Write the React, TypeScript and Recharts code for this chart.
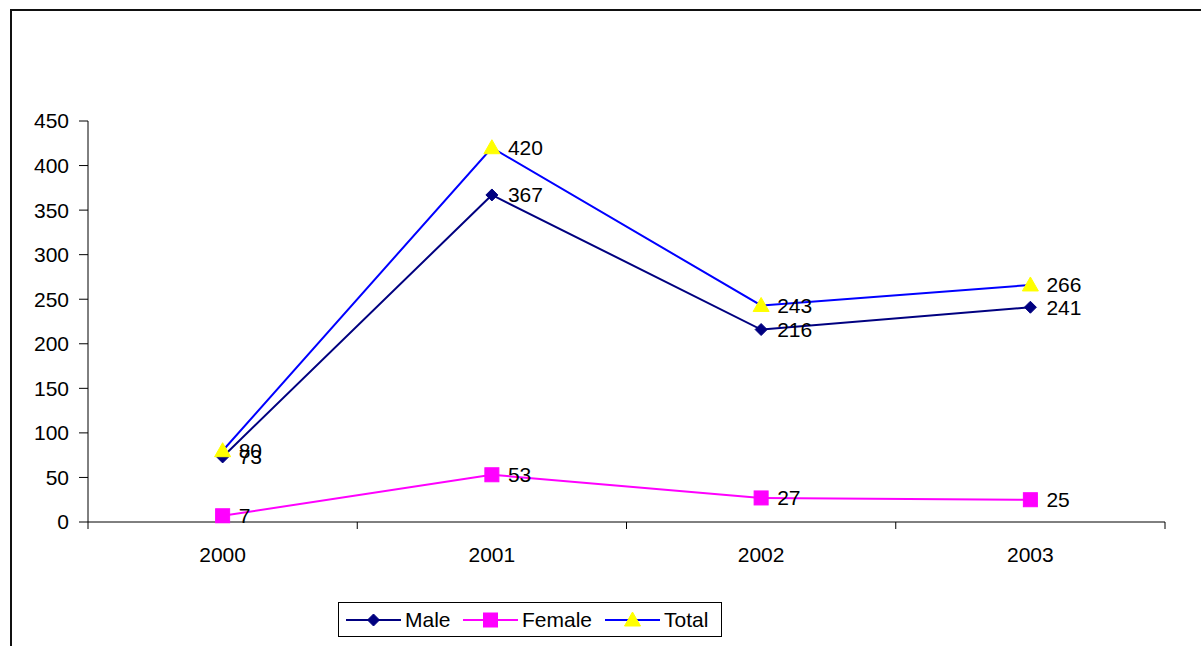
import React from 'react';
import { LineChart, Line, XAxis, YAxis, LabelList } from 'recharts';

const categories = ['2000', '2001', '2002', '2003'];
const male = [73, 367, 216, 241];
const female = [7, 53, 27, 25];
const total = [80, 420, 243, 266];
const yTicks = [0, 50, 100, 150, 200, 250, 300, 350, 400, 450];

const MALE_COLOR = '#000080';
const FEMALE_COLOR = '#FF00FF';
const TOTAL_COLOR = '#0000FF';
const TRI_COLOR = '#FFFF00';
const FONT = '"Liberation Sans", Arial, sans-serif';
const FS = 21;

// points sit in the middle of each category band, boundaries are 0..n
const data = categories.map((year, i) => ({
  year,
  pos: i + 0.5,
  male: male[i],
  female: female[i],
  total: total[i],
}));

const Diamond = ({ cx, cy }: any) => (
  <polygon
    points={`${cx},${cy - 6} ${cx + 6},${cy} ${cx},${cy + 6} ${cx - 6},${cy}`}
    fill={MALE_COLOR}
    stroke={MALE_COLOR}
  />
);

const Square = ({ cx, cy }: any) => (
  <rect x={cx - 7} y={cy - 7} width={14} height={14} fill={FEMALE_COLOR} stroke={FEMALE_COLOR} />
);

const Triangle = ({ cx, cy }: any) => (
  <polygon
    points={`${cx},${cy - 8} ${cx + 8},${cy + 6} ${cx - 8},${cy + 6}`}
    fill={TRI_COLOR}
    stroke={TRI_COLOR}
  />
);

const legendItems = [
  { name: 'Male', color: MALE_COLOR, Shape: Diamond, left: 8 },
  { name: 'Female', color: FEMALE_COLOR, Shape: Square, left: 125 },
  { name: 'Total', color: TOTAL_COLOR, Shape: Triangle, left: 267 },
];

const labelStyle = { fill: '#000', fontSize: FS, fontFamily: FONT };

export default function App() {
  return (
    <div
      style={{
        position: 'fixed',
        left: 0,
        top: 0,
        width: 1201,
        height: 646,
        overflow: 'hidden',
        background: '#fff',
        fontFamily: FONT,
      }}
    >
      <div
        style={{
          position: 'absolute',
          left: 10,
          top: 9,
          width: 1300,
          height: 700,
          border: '2px solid #111',
        }}
      />
      <div style={{ position: 'absolute', left: 0, top: 0 }}>
        <LineChart
          width={1201}
          height={646}
          data={data}
          margin={{ top: 121, right: 36, left: 0, bottom: 74 }}
        >
          <XAxis
            xAxisId="b"
            dataKey="pos"
            type="number"
            domain={[0, categories.length]}
            ticks={categories.map((_, i) => i + 0.5)}
            tickFormatter={(v: number) => categories[Math.floor(v)]}
            height={40}
            axisLine={false}
            tickLine={false}
            tickSize={0}
            tickMargin={15}
            tick={{ fill: '#000', fontSize: FS, fontFamily: FONT }}
          />
          <XAxis
            xAxisId="a"
            dataKey="pos"
            type="number"
            domain={[0, categories.length]}
            ticks={categories.map((_, i) => i).concat(categories.length)}
            tickFormatter={() => ''}
            height={10}
            tickSize={7}
            axisLine={{ stroke: '#000', strokeWidth: 1 }}
            tickLine={{ stroke: '#000' }}
          />
          <YAxis
            domain={[0, 450]}
            ticks={yTicks}
            interval={0}
            width={88}
            tickSize={9}
            tickMargin={10}
            axisLine={{ stroke: '#000' }}
            tickLine={{ stroke: '#000' }}
            tick={{ fill: '#000', fontSize: FS, fontFamily: FONT }}
          />
          <Line
            xAxisId="a"
            dataKey="male"
            stroke={MALE_COLOR}
            strokeWidth={2}
            dot={(p: any) => <Diamond key={`m-${p.index}`} {...p} />}
            isAnimationActive={false}
          >
            <LabelList dataKey="male" position="right" offset={16} style={labelStyle} />
          </Line>
          <Line
            xAxisId="a"
            dataKey="female"
            stroke={FEMALE_COLOR}
            strokeWidth={2}
            dot={(p: any) => <Square key={`f-${p.index}`} {...p} />}
            isAnimationActive={false}
          >
            <LabelList dataKey="female" position="right" offset={16} style={labelStyle} />
          </Line>
          <Line
            xAxisId="a"
            dataKey="total"
            stroke={TOTAL_COLOR}
            strokeWidth={2}
            dot={(p: any) => <Triangle key={`t-${p.index}`} {...p} />}
            isAnimationActive={false}
          >
            <LabelList dataKey="total" position="right" offset={16} style={labelStyle} />
          </Line>
        </LineChart>
      </div>
      <div
        style={{
          position: 'absolute',
          left: 338,
          top: 602,
          width: 384,
          height: 35,
          border: '1px solid #000',
          boxSizing: 'border-box',
          fontSize: FS,
        }}
      >
        {legendItems.map(({ name, color, Shape, left }) => (
          <div
            key={name}
            style={{
              position: 'absolute',
              left: left - 1,
              top: 0,
              height: 33,
              display: 'flex',
              alignItems: 'center',
            }}
          >
            <svg width={55} height={20}>
              <line x1={0} y1={10} x2={55} y2={10} stroke={color} strokeWidth={2} />
              <Shape cx={27.5} cy={10} />
            </svg>
            <span style={{ marginLeft: 4 }}>{name}</span>
          </div>
        ))}
      </div>
    </div>
  );
}
